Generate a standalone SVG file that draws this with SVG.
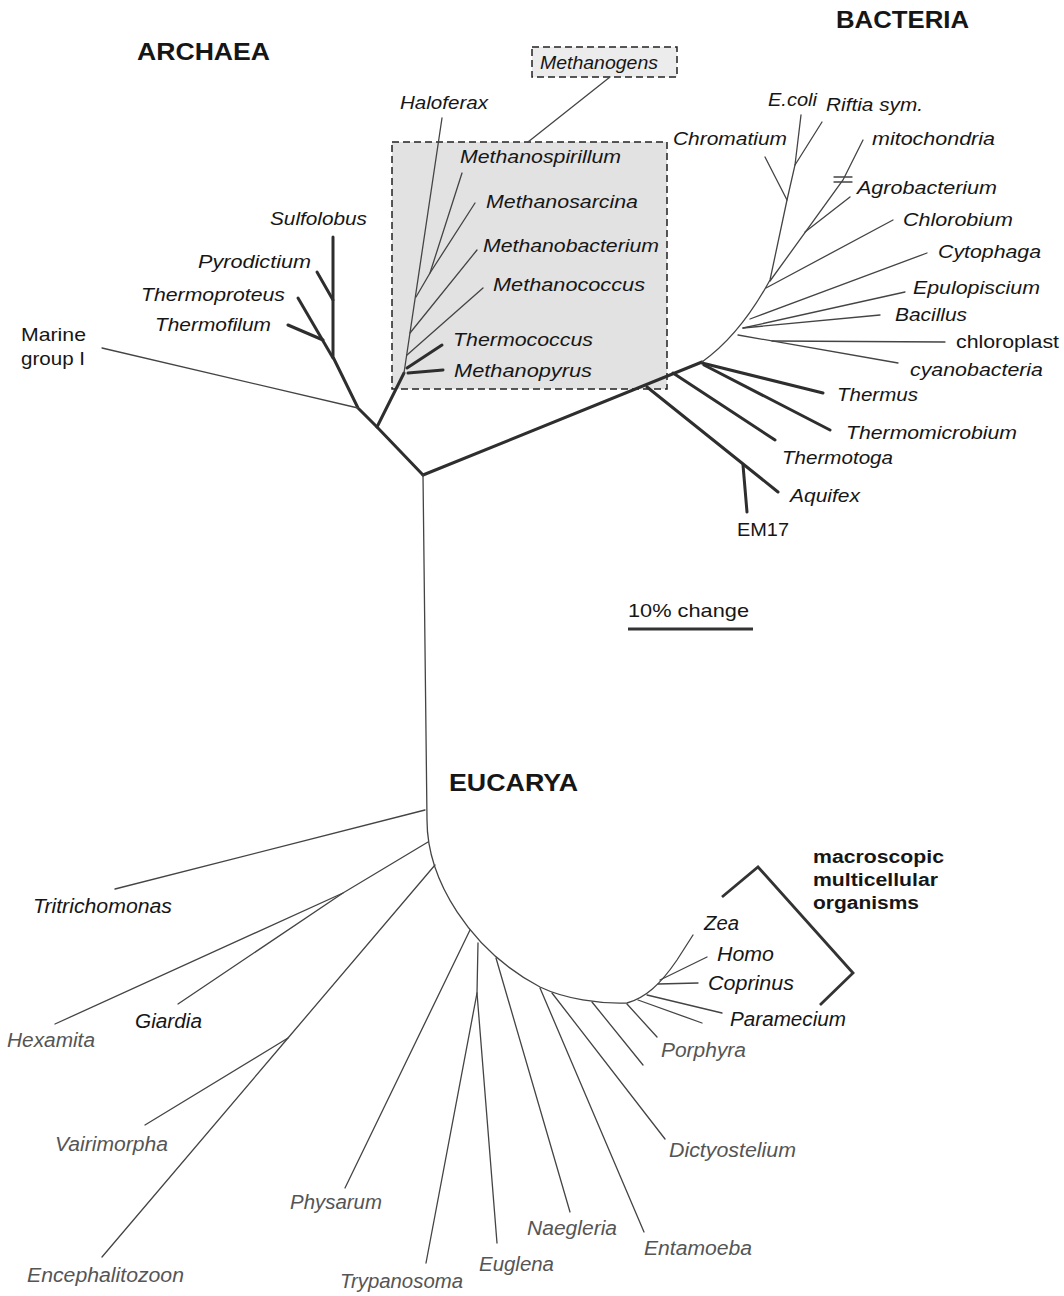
<svg xmlns="http://www.w3.org/2000/svg" width="1064" height="1296" viewBox="0 0 1064 1296">
<style>
.thin{stroke:#444;stroke-width:1.3;fill:none;stroke-linecap:round}
.thick{stroke:#2e2e2e;stroke-width:3;fill:none;stroke-linecap:round;stroke-linejoin:round}
.br{stroke:#333;stroke-width:2.8;fill:none;stroke-linejoin:miter}
text{font-family:"Liberation Sans",Arial,sans-serif;fill:#161616}
.it{font-style:italic;font-size:18.5px}
.eu{font-style:italic;font-size:19.5px;fill:#555}
.eb{font-style:italic;font-size:19.5px;fill:#161616}
.up{font-size:18.5px}
.title{font-weight:bold;font-size:23px}
.mac{font-weight:bold;font-size:18px}
.dash{stroke:#222;stroke-width:1.5;stroke-dasharray:7,4}
</style>
<rect width="1064" height="1296" fill="#fff"/>

<g id="methanogen-box">
<rect x="392" y="142" width="275" height="247" fill="#e2e2e2" class="dash"/>
</g>
<g id="methanogens-label">
<rect x="532" y="47" width="145" height="30" fill="#ececec" class="dash"/>
<text class="it" x="540" y="69" textLength="118" lengthAdjust="spacingAndGlyphs">Methanogens</text>
</g>

<g id="connectors">
<line class="thin" x1="610" y1="77" x2="528" y2="142"/>
<!-- Archaea -->
<polyline class="thick" points="423,475 377,427 358,408 333,357 333,237"/>
<line class="thick" x1="333" y1="300" x2="317" y2="272"/>
<line class="thick" x1="333" y1="358" x2="298" y2="298"/>
<line class="thick" x1="323" y1="340" x2="288" y2="325"/>
<line class="thin" x1="358" y1="408" x2="102" y2="348"/>
<line class="thick" x1="377" y1="427" x2="404" y2="373"/>
<line class="thin" x1="404" y1="373" x2="442" y2="118"/>
<polyline class="thin" points="416,297 430,273 462,173"/>
<line class="thin" x1="430" y1="273" x2="475" y2="203"/>
<line class="thin" x1="410" y1="333" x2="477" y2="250"/>
<line class="thin" x1="407" y1="355" x2="483" y2="288"/>
<line class="thick" x1="407" y1="368" x2="442" y2="345"/>
<line class="thick" x1="408" y1="373" x2="443" y2="370"/>
<!-- Bacteria -->
<line class="thick" x1="423" y1="475" x2="702" y2="362"/>
<line class="thick" x1="647" y1="387" x2="778" y2="492"/>
<line class="thick" x1="743" y1="465" x2="747" y2="512"/>
<line class="thick" x1="673" y1="373" x2="775" y2="440"/>
<line class="thick" x1="702" y1="363" x2="823" y2="393"/>
<line class="thick" x1="704" y1="365" x2="830" y2="430"/>
<path class="thin" d="M702,362 Q740,335 770,280 L787,200 L795,165 L801,115"/>
<line class="thin" x1="795" y1="165" x2="822" y2="122"/>
<line class="thin" x1="787" y1="200" x2="765" y2="157"/>
<polyline class="thin" points="770,281 843,180 863,140"/>
<line class="thin" x1="834" y1="177" x2="852" y2="177"/>
<line class="thin" x1="834" y1="182" x2="852" y2="182"/>
<line class="thin" x1="805" y1="232" x2="850" y2="197"/>
<line class="thin" x1="766" y1="288" x2="893" y2="220"/>
<line class="thin" x1="750" y1="319" x2="927" y2="253"/>
<line class="thin" x1="743" y1="328" x2="905" y2="292"/>
<line class="thin" x1="743" y1="328" x2="880" y2="315"/>
<line class="thin" x1="738" y1="335" x2="898" y2="363"/>
<line class="thin" x1="772" y1="341" x2="945" y2="342"/>
<!-- Eucarya -->
<path class="thin" d="M423,475 L427,820 C427,880 470,950 540,987 C565,999 600,1004 627,1003 C645,998 660,985 677,960 L693,935"/>
<line class="thin" x1="425" y1="810" x2="115" y2="889"/>
<polyline class="thin" points="428,842 343,893 55,1024"/>
<line class="thin" x1="343" y1="893" x2="178" y2="1004"/>
<polyline class="thin" points="435,865 288,1038 102,1257"/>
<line class="thin" x1="288" y1="1038" x2="145" y2="1125"/>
<line class="thin" x1="470" y1="930" x2="345" y2="1188"/>
<polyline class="thin" points="478,943 477,993 426,1263"/>
<line class="thin" x1="477" y1="993" x2="497" y2="1243"/>
<line class="thin" x1="496" y1="958" x2="570" y2="1212"/>
<line class="thin" x1="540" y1="988" x2="644" y2="1232"/>
<line class="thin" x1="552" y1="993" x2="665" y2="1139"/>
<line class="thin" x1="592" y1="1002" x2="643" y2="1065"/>
<line class="thin" x1="627" y1="1004" x2="657" y2="1037"/>
<line class="thin" x1="638" y1="1000" x2="702" y2="1023"/>
<line class="thin" x1="647" y1="995" x2="722" y2="1013"/>
<line class="thin" x1="658" y1="984" x2="698" y2="983"/>
<line class="thin" x1="660" y1="980" x2="707" y2="957"/>
<!-- bracket and scale -->
<polyline class="br" points="722,897 758,867 853,973 820,1005"/>
<line x1="628" y1="629" x2="753" y2="629" stroke="#333" stroke-width="3"/>
</g>

<g id="titles">
<text class="title" x="137" y="60" textLength="133" lengthAdjust="spacingAndGlyphs">ARCHAEA</text>
<text class="title" x="836" y="28" textLength="133" lengthAdjust="spacingAndGlyphs">BACTERIA</text>
<text class="title" x="449" y="791" textLength="129" lengthAdjust="spacingAndGlyphs">EUCARYA</text>
<text class="up" x="628" y="617" textLength="121" lengthAdjust="spacingAndGlyphs">10% change</text>
</g>

<g id="archaea-labels">
<text class="it" x="270" y="225" textLength="97" lengthAdjust="spacingAndGlyphs">Sulfolobus</text>
<text class="it" x="198" y="268" textLength="113" lengthAdjust="spacingAndGlyphs">Pyrodictium</text>
<text class="it" x="141" y="301" textLength="144" lengthAdjust="spacingAndGlyphs">Thermoproteus</text>
<text class="it" x="155" y="331" textLength="116" lengthAdjust="spacingAndGlyphs">Thermofilum</text>
<text class="up" x="21" y="341" textLength="65" lengthAdjust="spacingAndGlyphs">Marine</text>
<text class="up" x="21" y="365" textLength="64" lengthAdjust="spacingAndGlyphs">group I</text>
<text class="it" x="400" y="109" textLength="88" lengthAdjust="spacingAndGlyphs">Haloferax</text>
<text class="it" x="460" y="163" textLength="161" lengthAdjust="spacingAndGlyphs">Methanospirillum</text>
<text class="it" x="486" y="208" textLength="152" lengthAdjust="spacingAndGlyphs">Methanosarcina</text>
<text class="it" x="483" y="252" textLength="176" lengthAdjust="spacingAndGlyphs">Methanobacterium</text>
<text class="it" x="493" y="291" textLength="152" lengthAdjust="spacingAndGlyphs">Methanococcus</text>
<text class="it" x="453" y="346" textLength="140" lengthAdjust="spacingAndGlyphs">Thermococcus</text>
<text class="it" x="454" y="377" textLength="138" lengthAdjust="spacingAndGlyphs">Methanopyrus</text>
</g>

<g id="bacteria-labels">
<text class="it" x="768" y="106" textLength="49" lengthAdjust="spacingAndGlyphs">E.coli</text>
<text class="it" x="826" y="111" textLength="97" lengthAdjust="spacingAndGlyphs">Riftia sym.</text>
<text class="it" x="673" y="145" textLength="114" lengthAdjust="spacingAndGlyphs">Chromatium</text>
<text class="it" x="872" y="145" textLength="123" lengthAdjust="spacingAndGlyphs">mitochondria</text>
<text class="it" x="857" y="194" textLength="140" lengthAdjust="spacingAndGlyphs">Agrobacterium</text>
<text class="it" x="903" y="226" textLength="110" lengthAdjust="spacingAndGlyphs">Chlorobium</text>
<text class="it" x="938" y="258" textLength="103" lengthAdjust="spacingAndGlyphs">Cytophaga</text>
<text class="it" x="913" y="294" textLength="127" lengthAdjust="spacingAndGlyphs">Epulopiscium</text>
<text class="it" x="895" y="321" textLength="72" lengthAdjust="spacingAndGlyphs">Bacillus</text>
<text class="up" x="956" y="348" textLength="103" lengthAdjust="spacingAndGlyphs">chloroplast</text>
<text class="it" x="910" y="376" textLength="133" lengthAdjust="spacingAndGlyphs">cyanobacteria</text>
<text class="it" x="837" y="401" textLength="81" lengthAdjust="spacingAndGlyphs">Thermus</text>
<text class="it" x="846" y="439" textLength="171" lengthAdjust="spacingAndGlyphs">Thermomicrobium</text>
<text class="it" x="782" y="464" textLength="111" lengthAdjust="spacingAndGlyphs">Thermotoga</text>
<text class="it" x="790" y="502" textLength="70" lengthAdjust="spacingAndGlyphs">Aquifex</text>
<text class="up" x="737" y="536" textLength="52" lengthAdjust="spacingAndGlyphs">EM17</text>
</g>

<g id="eucarya-labels">
<text class="eb" x="33" y="913" textLength="139" lengthAdjust="spacingAndGlyphs">Tritrichomonas</text>
<text class="eu" x="7" y="1047" textLength="88" lengthAdjust="spacingAndGlyphs">Hexamita</text>
<text class="eb" x="135" y="1028" textLength="67" lengthAdjust="spacingAndGlyphs">Giardia</text>
<text class="eu" x="55" y="1151" textLength="113" lengthAdjust="spacingAndGlyphs">Vairimorpha</text>
<text class="eu" x="27" y="1282" textLength="157" lengthAdjust="spacingAndGlyphs">Encephalitozoon</text>
<text class="eu" x="290" y="1209" textLength="92" lengthAdjust="spacingAndGlyphs">Physarum</text>
<text class="eu" x="340" y="1288" textLength="123" lengthAdjust="spacingAndGlyphs">Trypanosoma</text>
<text class="eu" x="479" y="1271" textLength="75" lengthAdjust="spacingAndGlyphs">Euglena</text>
<text class="eu" x="527" y="1235" textLength="90" lengthAdjust="spacingAndGlyphs">Naegleria</text>
<text class="eu" x="644" y="1255" textLength="108" lengthAdjust="spacingAndGlyphs">Entamoeba</text>
<text class="eu" x="669" y="1157" textLength="127" lengthAdjust="spacingAndGlyphs">Dictyostelium</text>
<text class="eu" x="661" y="1057" textLength="85" lengthAdjust="spacingAndGlyphs">Porphyra</text>
<text class="eb" x="704" y="930" textLength="35" lengthAdjust="spacingAndGlyphs">Zea</text>
<text class="eb" x="717" y="961" textLength="57" lengthAdjust="spacingAndGlyphs">Homo</text>
<text class="eb" x="708" y="990" textLength="86" lengthAdjust="spacingAndGlyphs">Coprinus</text>
<text class="eb" x="730" y="1026" textLength="116" lengthAdjust="spacingAndGlyphs">Paramecium</text>
<text class="mac" x="813" y="863" textLength="131" lengthAdjust="spacingAndGlyphs">macroscopic</text>
<text class="mac" x="813" y="886" textLength="125" lengthAdjust="spacingAndGlyphs">multicellular</text>
<text class="mac" x="813" y="909" textLength="106" lengthAdjust="spacingAndGlyphs">organisms</text>
</g>
</svg>
